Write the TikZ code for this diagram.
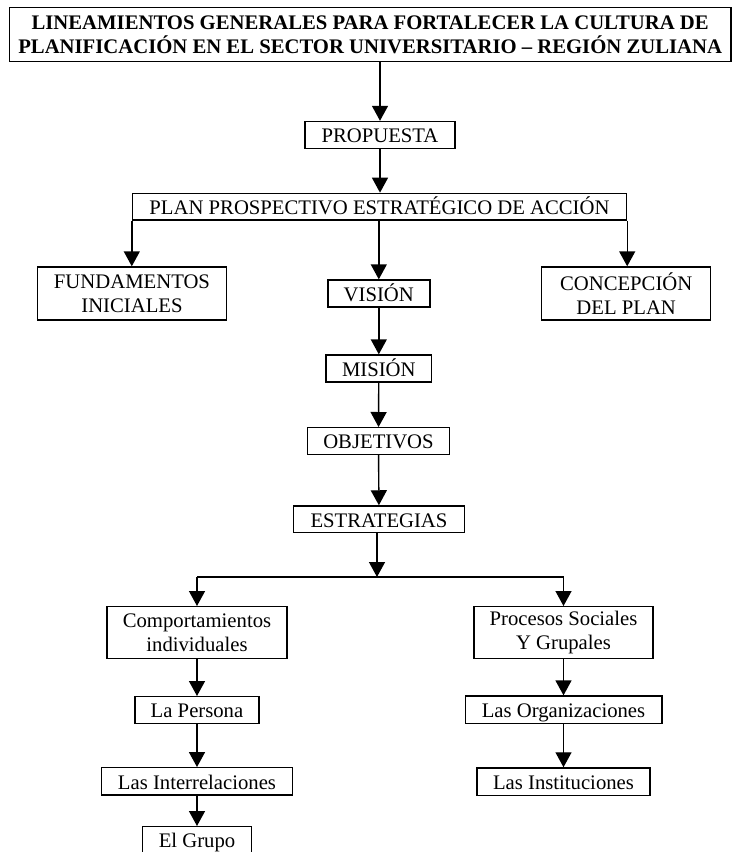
\documentclass[tikz,border=0pt]{standalone}
\usepackage{fontspec}
\setmainfont{Liberation Serif}
\usetikzlibrary{arrows.meta}
\begin{document}
\begin{tikzpicture}[x=1pt,y=1pt,
  box/.style={draw,line width=1.4pt,inner sep=0pt,align=center,font=\fontsize{20.7}{23.5}\selectfont},
  onebox/.style={box,text height=19.5pt,text depth=4pt},
  arr/.style={line width=1.4pt,-{Triangle[length=15pt,width=16pt]}},
  ln/.style={line width=1.4pt}]
\useasboundingbox (0,0) rectangle (734,-852);
\node[box,minimum width=721.6pt,minimum height=54.4pt,font=\fontsize{20.7}{24}\selectfont\bfseries] (title) at (370.2,-34.5)
  {LINEAMIENTOS GENERALES PARA FORTALECER LA CULTURA DE\\PLANIFICACIÓN EN EL SECTOR UNIVERSITARIO – REGIÓN ZULIANA};
\node[onebox,minimum width=150pt,minimum height=27pt] (prop) at (380,-135) {PROPUESTA};
\node[onebox,minimum width=494pt,minimum height=26.7pt] (plan) at (379.5,-206.7) {PLAN PROSPECTIVO ESTRATÉGICO DE ACCIÓN};
\node[box,minimum width=189pt,minimum height=53pt] (fund) at (132,-293.5) {FUNDAMENTOS\\INICIALES};
\node[onebox,minimum width=102pt,minimum height=27pt] (vis) at (378.8,-293.5) {VISIÓN};
\node[box,minimum width=169pt,minimum height=53pt] (conc) at (626.2,-293.5) {CONCEPCIÓN\\DEL PLAN};
\node[onebox,minimum width=105.6pt,minimum height=27pt] (mis) at (378.8,-368.5) {MISIÓN};
\node[onebox,minimum width=142pt,minimum height=26.6pt] (obj) at (378.5,-441) {OBJETIVOS};
\node[onebox,minimum width=171pt,minimum height=26.7pt] (est) at (379,-519.3) {ESTRATEGIAS};
\coordinate (j) at (377,-577);
\coordinate (jl) at (197,-577);
\coordinate (jr) at (563.5,-577);
\node[box,minimum width=180pt,minimum height=51.6pt] (comp) at (197,-632.5) {Comportamientos\\individuales};
\node[box,minimum width=179pt,minimum height=51.6pt] (proc) at (563.5,-632.5) {Procesos Sociales\\Y Grupales};
\node[onebox,minimum width=124pt,minimum height=26.6pt] (pers) at (197,-710) {La Persona};
\node[onebox,minimum width=190.6pt,minimum height=27.3pt] (inter) at (197,-781.4) {Las Interrelaciones};
\node[onebox,minimum width=109pt,minimum height=27pt] (grupo) at (197,-840.2) {El Grupo};
\node[onebox,minimum width=196.6pt,minimum height=27.3pt] (org) at (563.5,-709.7) {Las Organizaciones};
\node[onebox,minimum width=173pt,minimum height=27.7pt] (inst) at (563.5,-781.8) {Las Instituciones};
\draw[arr] (title.south -| prop.north) -- (prop.north);
\draw[arr] (prop.south) -- (prop.south |- plan.north);
\draw[arr] (plan.south west) -- (fund.north -| plan.south west);
\draw[arr] (plan.south -| vis.north) -- (vis.north);
\draw[arr] (plan.south east) -- (conc.north -| plan.south east);
\draw[arr] (vis) -- (mis);
\draw[arr] (mis) -- (obj);
\draw[arr] (obj) -- (est);
\draw[arr] (est.south -| j) -- (j);
\draw[ln] (jl) -- (jr);
\draw[arr] (jl) -- (comp.north);
\draw[arr] (jr) -- (proc.north);
\draw[arr] (comp) -- (pers);
\draw[arr] (pers) -- (inter);
\draw[arr] (inter) -- (grupo);
\draw[arr] (proc) -- (org);
\draw[arr] (org) -- (inst);
\end{tikzpicture}
\end{document}
